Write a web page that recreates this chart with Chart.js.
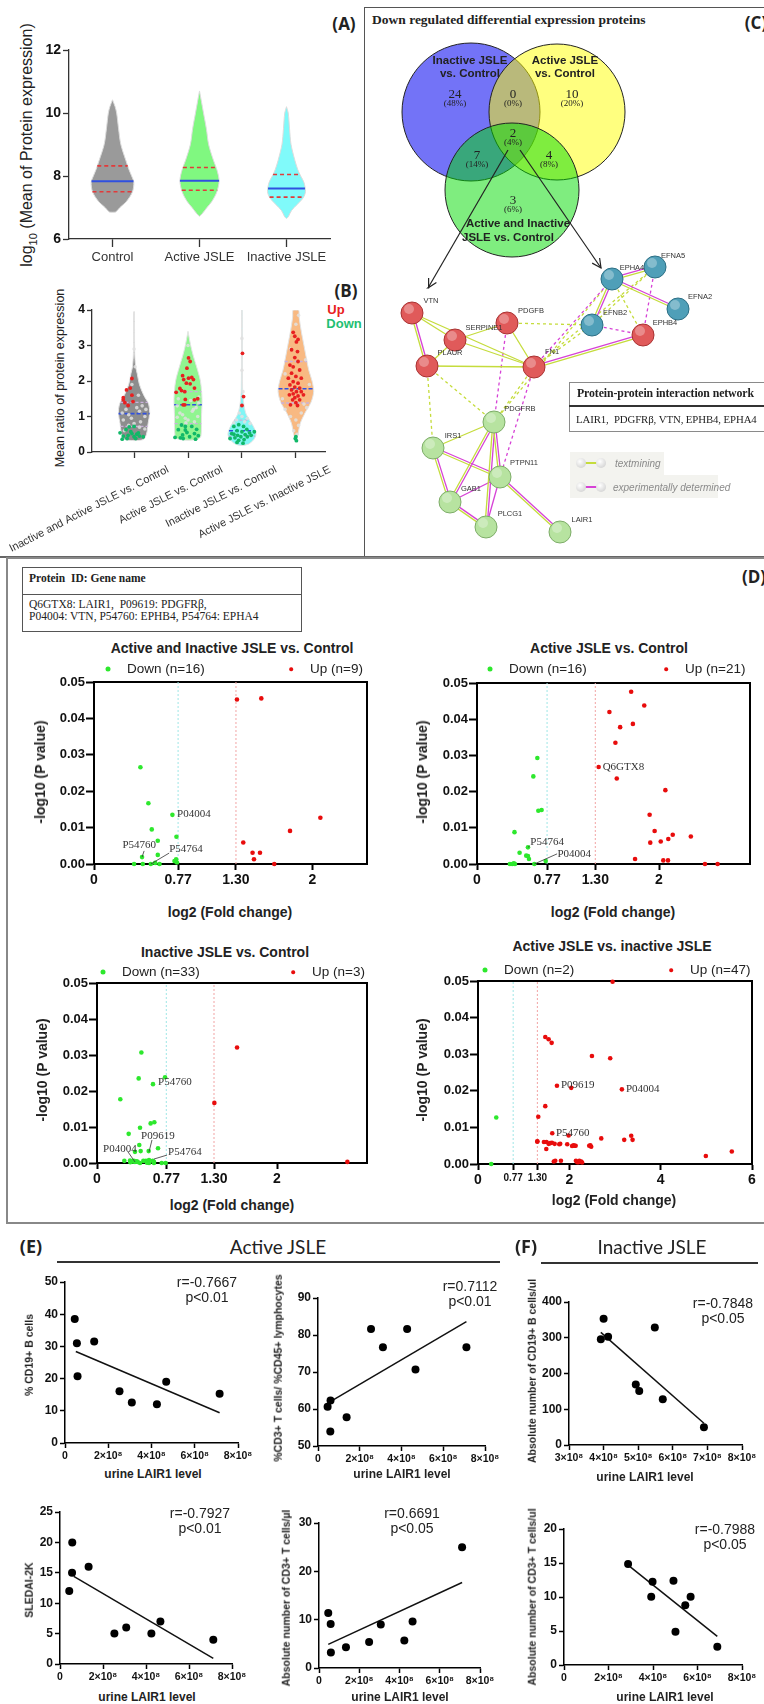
<!DOCTYPE html>
<html>
<head>
<meta charset="utf-8">
<title>Urine proteomics in JSLE</title>
<script src="https://cdn.jsdelivr.net/npm/chart.js@4.4.1/dist/chart.umd.min.js"></script>
<style>
  body { margin: 0; width: 764px; height: 1704px; position: relative; overflow: hidden; background: #fff;
         font-family: "Liberation Sans", Arial, sans-serif; color: #222; }
  canvas { position: absolute; }
  .t { position: absolute; white-space: nowrap; line-height: 1; transform: translate(-50%, -50%); }
  .l { transform: translate(0, -50%); }
  .rot { transform: translate(-50%, -50%) rotate(-90deg); }
  .ln { position: absolute; box-sizing: border-box; }
  .dot { position: absolute; border-radius: 50%; transform: translate(-50%, -50%); }
</style>
</head>
<body>
<script>
// ---------- (A) violin: log10 mean protein expression ----------
const groupsA = ["Control", "Active JSLE", "Inactive JSLE"];
// [log10 level, half width in category units]
const profileControl = [[6.85, 0], [6.86, 0.038], [7.0, 0.086], [7.2, 0.163], [7.5, 0.23], [7.8, 0.245], [8.0, 0.22], [8.2, 0.19], [8.5, 0.153], [9.0, 0.096], [9.5, 0.07], [10.0, 0.048], [10.2, 0.03], [10.42, 0]];
const profileActive = [[6.72, 0], [6.8, 0.03], [7.0, 0.086], [7.2, 0.144], [7.5, 0.2], [7.85, 0.225], [8.2, 0.2], [8.5, 0.16], [9.0, 0.105], [9.5, 0.079], [10.0, 0.046], [10.4, 0.02], [10.7, 0]];
const profileInactive = [[6.65, 0], [6.7, 0.02], [6.9, 0.057], [7.1, 0.125], [7.3, 0.19], [7.5, 0.218], [7.8, 0.2], [8.0, 0.163], [8.2, 0.13], [8.5, 0.096], [9.0, 0.052], [9.5, 0.035], [10.0, 0.02], [10.2, 0]];
const mediansA = [7.83, 7.85, 7.6];
const quartilesA = [[7.5, 8.32], [7.55, 8.27], [7.33, 8.05]];
const yTicksA = [6, 8, 10, 12];

// ---------- (B) violin: mean ratio of protein expression ----------
const groupsB = ["Inactive and Active JSLE vs. Control", "Active JSLE vs. Control", "Inactive JSLE vs. Control", "Active JSLE vs. Inactive JSLE"];
const profileB1 = [[0.32, 0], [0.35, 0.17], [0.5, 0.23], [0.8, 0.26], [1.1, 0.29], [1.35, 0.27], [1.6, 0.18], [1.9, 0.1], [2.2, 0.06], [2.4, 0.03], [2.8, 0.012], [3.95, 0.006]];
const profileB2 = [[0.33, 0], [0.36, 0.18], [0.45, 0.24], [1.0, 0.25], [1.5, 0.26], [2.0, 0.23], [2.4, 0.16], [2.7, 0.1], [3.0, 0.05], [3.4, 0]];
const profileB3 = [[0.18, 0], [0.22, 0.12], [0.35, 0.22], [0.5, 0.26], [0.7, 0.22], [0.9, 0.14], [1.1, 0.07], [1.4, 0.03], [1.8, 0.012], [4.0, 0.006]];
const profileB4 = [[0.28, 0], [0.5, 0.04], [0.8, 0.08], [1.1, 0.17], [1.4, 0.28], [1.7, 0.33], [2.0, 0.3], [2.3, 0.24], [2.6, 0.2], [3.0, 0.15], [3.4, 0.1], [3.8, 0.06], [4.0, 0.05]];
const mediansB = [1.08, 1.33, 0.6, 1.78];
const quartilesB = [[0.72, 1.4], [0.8, 1.7], [0.45, 0.9], [1.38, 2.55]];
const yTicksB = [0, 1, 2, 3, 4];
// points: [offset from group centre, ratio]
const upB1 = [[-0.04, 2.07], [-0.07, 1.8], [-0.14, 1.75], [-0.04, 1.6], [-0.2, 1.53], [-0.02, 1.42], [-0.17, 1.39], [-0.11, 1.31], [-0.2, 1.47]];
const downB1 = [[0, 0.72], [-0.09, 0.71], [-0.15, 0.63], [-0.04, 0.52], [0.05, 0.5], [-0.11, 0.47], [-0.2, 0.45], [0, 0.43], [0.1, 0.45], [-0.13, 0.38], [-0.22, 0.36], [0.03, 0.38], [0.17, 0.43], [-0.06, 0.57], [0.08, 0.54], [-0.26, 0.54]];
const upB2 = [[0.01, 2.65], [0.04, 2.55], [-0.02, 2.36], [-0.1, 2.15], [0.01, 2.08], [0.07, 2.1], [-0.08, 2.04], [0.1, 2.04], [-0.03, 1.94], [0.04, 1.92], [-0.12, 1.73], [0.12, 1.8], [-0.06, 1.7], [-0.22, 1.68], [0.18, 1.5], [-0.05, 1.48], [-0.09, 1.33], [-0.06, 1.33], [0.12, 1.47], [-0.15, 1.79]];
const downB2 = [[-0.12, 0.76], [-0.05, 0.72], [0.07, 0.72], [0.16, 0.64], [-0.18, 0.63], [-0.02, 0.55], [0.12, 0.52], [-0.1, 0.48], [0.19, 0.46], [-0.24, 0.41], [-0.14, 0.4], [-0.09, 0.38], [0.03, 0.43], [0.14, 0.36], [-0.05, 0.62]];
const upB3 = [[0.01, 2.78], [0.03, 1.56], [0, 1.31]];
const downB3 = [[-0.15, 0.72], [-0.06, 0.77], [0.03, 0.72], [0.09, 0.64], [-0.09, 0.6], [0, 0.57], [0.14, 0.54], [-0.19, 0.52], [-0.08, 0.47], [0.06, 0.49], [-0.13, 0.4], [-0.02, 0.43], [0.1, 0.43], [-0.22, 0.38], [-0.06, 0.33], [0.04, 0.35], [-0.09, 0.27], [0.02, 0.25], [0.17, 0.47], [-0.15, 0.5], [0.23, 0.57]];
const upB4 = [[-0.05, 3.37], [-0.02, 3.26], [0.04, 3.17], [0.01, 3.1], [-0.08, 2.88], [0.03, 2.83], [-0.02, 2.66], [0.04, 2.55], [-0.11, 2.45], [-0.05, 2.4], [0.07, 2.31], [-0.08, 2.22], [0, 2.13], [-0.14, 2.08], [0.1, 2.08], [-0.05, 1.98], [0.04, 1.94], [-0.11, 1.89], [-0.02, 1.83], [0.07, 1.8], [-0.08, 1.75], [0.01, 1.7], [0.1, 1.7], [-0.05, 1.64], [-0.12, 1.61], [0.04, 1.58], [0.14, 1.61], [-0.02, 1.53], [-0.06, 1.47], [0.07, 1.47], [0, 1.39], [-0.1, 1.33], [0.03, 1.31]];
const downB4 = [[0, 0.43], [-0.01, 0.38], [0.01, 0.32]];
const otherB1 = [[-0.15, 1.2], [0.1, 1.15], [0.2, 1.0], [-0.05, 0.95], [0.12, 0.85], [-0.2, 0.9], [0.05, 1.25], [0.15, 1.3], [-0.1, 1.05], [0, 0.8], [0.2, 0.65], [-0.18, 0.6], [0.08, 1.6], [-0.04, 1.9], [0.02, 2.4], [0, 2.9], [-0.22, 1.1], [0.22, 1.2], [0.1, 0.7], [-0.1, 0.75]];
const otherB2 = [[-0.15, 1.1], [0.1, 1.2], [0.18, 1.0], [-0.05, 0.95], [0.12, 0.85], [-0.2, 1.3], [0.05, 1.45], [0.15, 1.25], [-0.1, 1.05], [0, 0.9], [0.2, 1.55], [-0.18, 1.5], [0.08, 1.15], [-0.04, 0.82], [0, 3.0], [-0.2, 0.98], [0.2, 1.38]];
const otherB3 = [[-0.1, 0.9], [0.05, 0.85], [0, 1.0], [-0.05, 1.1], [0.02, 1.7], [0, 2.3], [0.15, 0.8], [-0.15, 0.82], [0.1, 0.95], [0, 3.2]];
const otherB4 = [[-0.2, 1.2], [0.2, 1.25], [0.1, 1.1], [-0.1, 1.0], [0, 0.9], [0.05, 0.75], [-0.04, 0.6], [0.02, 0.5], [0.15, 1.35], [-0.25, 1.5], [0.25, 1.9], [-0.2, 2.2], [0.18, 2.6], [-0.1, 2.9], [0, 3.6], [0.05, 3.85]];

// ---------- (C) Venn + STRING network (layout in page pixels) ----------
const vennCircles = [
  { x: 471, y: 112, r: 69, color: "rgba(0,0,240,0.55)" },
  { x: 557, y: 112, r: 68, color: "rgba(255,255,0,0.5)" },
  { x: 512, y: 190, r: 67, color: "rgba(0,220,0,0.5)" },
];
const vennArrows = [[508, 150, 428, 288], [520, 150, 601, 268]];
const netNodes = [
  ["VTN", 412, 313, "r"], ["SERPINE1", 455, 340, "r"], ["PLAUR", 427, 366, "r"], ["PDGFB", 507, 323, "r"], ["FN1", 534, 367, "r"],
  ["EFNB2", 592, 325, "b"], ["EPHB4", 643, 335, "r"], ["EFNA2", 678, 309, "b"], ["EPHA4", 612, 279, "b"], ["EFNA5", 655, 267, "b"],
  ["PDGFRB", 494, 422, "g"], ["IRS1", 433, 448, "g"], ["PTPN11", 500, 477, "g"], ["GAB1", 450, 502, "g"], ["PLCG1", 486, 527, "g"], ["LAIR1", 560, 532, "g"],
];
const netLabels = [["VTN", 431, 301], ["SERPINE1", 484, 328], ["PLAUR", 450, 353], ["PDGFB", 531, 311], ["FN1", 552, 352], ["EFNB2", 615, 313], ["EPHB4", 665, 323], ["EFNA2", 700, 297], ["EPHA4", 632, 268], ["EFNA5", 673, 256], ["PDGFRB", 520, 409], ["IRS1", 453, 436], ["PTPN11", 524, 463], ["GAB1", 471, 489], ["PLCG1", 510, 514], ["LAIR1", 582, 520]];
const netEdges = [
  ["VTN", "SERPINE1", "tm"], ["VTN", "FN1", "tm"], ["VTN", "PLAUR", "both"], ["SERPINE1", "PLAUR", "tm"], ["SERPINE1", "FN1", "tm"], ["SERPINE1", "PDGFB", "tm"], ["PLAUR", "FN1", "tm"], ["PDGFB", "FN1", "tm"], ["FN1", "EPHB4", "both"],
  ["EPHA4", "EFNB2", "both"], ["EPHA4", "EFNA5", "both"], ["EPHA4", "EFNA2", "both"], ["EPHB4", "EFNA5", "exd"], ["EFNB2", "EPHB4", "exd"], ["EPHA4", "EPHB4", "tmd"], ["EFNA5", "EFNB2", "tmd"],
  ["FN1", "EPHA4", "exd"], ["FN1", "EFNB2", "tmd"], ["PDGFB", "EFNB2", "tmd"], ["FN1", "EFNA5", "tmd"],
  ["PDGFB", "PDGFRB", "exd"], ["PLAUR", "IRS1", "tmd"], ["PLAUR", "PDGFRB", "tmd"], ["FN1", "PDGFRB", "tmd"], ["FN1", "PTPN11", "exd"], ["PDGFRB", "EPHA4", "tmd"],
  ["PDGFRB", "IRS1", "tm"], ["PDGFRB", "PTPN11", "both"], ["PDGFRB", "GAB1", "both"], ["PDGFRB", "PLCG1", "both"], ["IRS1", "PTPN11", "both"], ["IRS1", "GAB1", "both"], ["GAB1", "PTPN11", "ex"], ["GAB1", "PLCG1", "both"], ["PTPN11", "PLCG1", "ex"], ["PTPN11", "LAIR1", "both"],
];

// ---------- (D) volcano plots: [log2 fold change, -log10 p] ----------
const cutDown = 0.77, cutUp = 1.30;
const yTicksVolcano = [0, 0.01, 0.02, 0.03, 0.04, 0.05];
const xTicksVolcano = [0, 0.77, 1.30, 2];
const xTicksVolcano4 = [0, 0.77, 1.30, 2, 4, 6];
const down1 = [[0.425, 0.0266], [0.498, 0.0167], [0.718, 0.0135], [0.529, 0.0095], [0.755, 0.0075], [0.584, 0.0064], [0.584, 0.0025], [0.44, 0.0019], [0.367, 0], [0.447, 0], [0.52, 0], [0.56, 0.0003], [0.6, 0], [0.737, 0.0008], [0.752, 0.0013], [0.76, 0.0004]];
const up1 = [[1.309, 0.0452], [1.532, 0.0455], [2.073, 0.0127], [1.795, 0.0091], [1.367, 0.0059], [1.452, 0.0031], [1.52, 0.0031], [1.465, 0.0013], [1.651, 0]];
const down2 = [[0.663, 0.0293], [0.619, 0.0242], [0.674, 0.0147], [0.71, 0.0149], [0.412, 0.0088], [0.56, 0.0046], [0.541, 0.0023], [0.56, 0.0022], [0.571, 0.0014], [0.468, 0.0031], [0.755, 0.0008], [0.63, 0], [0.361, 0], [0.387, 0], [0.417, 0], [0.405, 0.0002]];
const up2 = [[1.694, 0.0476], [1.838, 0.0438], [1.455, 0.042], [1.713, 0.0387], [1.573, 0.0378], [1.521, 0.0335], [1.337, 0.0268], [1.536, 0.0236], [2.07, 0.0204], [1.897, 0.0136], [1.952, 0.0091], [2.151, 0.0081], [2.35, 0.0076], [2.102, 0.0069], [1.904, 0.0059], [2.019, 0.0062], [1.737, 0.0014], [2.047, 0.001], [2.099, 0.001], [2.505, 0], [2.644, 0]];
const down3 = [[0.493, 0.0307], [0.463, 0.0235], [0.756, 0.0238], [0.622, 0.0219], [0.259, 0.0177], [0.596, 0.011], [0.637, 0.0113], [0.478, 0.0098], [0.352, 0.0081], [0.47, 0.005], [0.678, 0.0041], [0.422, 0.0031], [0.485, 0.0033], [0.574, 0.0033], [0.304, 0.0006], [0.367, 0.0007], [0.396, 0.0004], [0.422, 0.0003], [0.452, 0.0003], [0.515, 0.0006], [0.544, 0.0006], [0.578, 0.0008], [0.619, 0.0006], [0.633, 0.0003], [0.719, 0], [0.763, 0], [0.633, 0], [0.44, 0.0005], [0.37, 0.0002], [0.578, 0], [0.478, 0], [0.41, 0.0006], [0.555, 0.0001]];
const up3 = [[1.556, 0.0321], [1.304, 0.0167], [2.782, 0.0003]];
const down4 = [[0.4, 0.0127], [0.29, 0]];
const up4 = [[2.947, 0.0498], [1.473, 0.0347], [1.547, 0.0341], [1.613, 0.0331], [2.495, 0.0295], [2.895, 0.0289], [1.729, 0.0214], [2.042, 0.0208], [3.151, 0.0204], [1.473, 0.0158], [1.32, 0.0129], [1.626, 0.0084], [1.984, 0.0078], [2.699, 0.007], [3.355, 0.0077], [3.385, 0.0066], [3.202, 0.0066], [1.298, 0.0061], [1.444, 0.006], [1.547, 0.0055], [1.619, 0.0058], [1.678, 0.0055], [1.779, 0.0054], [1.954, 0.0054], [2.116, 0.005], [2.138, 0.005], [2.435, 0.005], [2.479, 0.0047], [1.495, 0.0041], [4.989, 0.0022], [5.558, 0.0034], [1.692, 0.0009], [1.816, 0.0009], [2.144, 0.0009], [2.203, 0.0005], [2.26, 0.0007], [2.173, 0.0005], [1.58, 0.0057], [1.8, 0.0055], [2.09, 0.0051], [2.22, 0.0009], [2.28, 0.0004], [2.46, 0.0051], [1.3, 0.0062], [1.5, 0.006], [2.06, 0.0049], [1.66, 0.0007]];
// protein id tags: text anchor [x, y], optional leader [x1, y1, x2, y2]
const tags1 = [{ t: "P04004", x: 0.761, y: 0.0137 }, { t: "P54760", x: 0.26, y: 0.0052, lead: [0.459, 0.0036, 0.44, 0.0019] }, { t: "P54764", x: 0.688, y: 0.0041, lead: [0.688, 0.003, 0.52, 0] }];
const tags2 = [{ t: "Q6GTX8", x: 1.381, y: 0.0268 }, { t: "P54764", x: 0.586, y: 0.0061, lead: [0.58, 0.005, 0.56, 0.0046] }, { t: "P04004", x: 0.884, y: 0.0028, lead: [0.88, 0.0028, 0.63, 0] }];
const tags3 = [{ t: "P54760", x: 0.678, y: 0.0225 }, { t: "P09619", x: 0.489, y: 0.0075, lead: [0.611, 0.0064, 0.578, 0.0031] }, { t: "P04004", x: 0.067, y: 0.0039, lead: [0.344, 0.0031, 0.422, 0.0003] }, { t: "P54764", x: 0.789, y: 0.0031, lead: [0.778, 0.0022, 0.633, 0.0011] }];
const tags4 = [{ t: "P09619", x: 1.816, y: 0.0216 }, { t: "P04004", x: 3.239, y: 0.0205 }, { t: "P54760", x: 1.707, y: 0.0085 }];

// ---------- (E)/(F) correlations: [urine LAIR1 (×10⁸), value] ----------
const xTicksE = [0, 2, 4, 6, 8];
const xTicksF1 = [3, 4, 5, 6, 7, 8];
const cd19Pct = [[0.45, 38.5], [0.55, 31.0], [0.58, 20.7], [1.35, 31.5], [2.52, 16.1], [3.09, 12.6], [4.25, 12.0], [4.68, 19.0], [7.15, 15.3]];
const cd19PctFit = [[0.5, 28.4], [7.15, 9.4]];
const cd3Pct = [[0.46, 60.6], [0.6, 62.3], [0.59, 53.9], [1.37, 57.8], [2.54, 81.6], [3.11, 76.7], [4.27, 81.6], [4.67, 70.7], [7.11, 76.7]];
const cd3PctFit = [[0.65, 62.2], [7.11, 83.6]];
const cd19Abs = [[4.0, 353], [3.92, 296], [4.13, 303], [5.48, 329], [4.93, 169], [5.03, 151], [5.71, 128], [6.9, 49.5]];
const cd19AbsFit = [[3.92, 315], [6.9, 61]];
const sledai = [[0.43, 12], [0.56, 15], [0.57, 20], [1.33, 16], [2.53, 5], [3.08, 6], [4.25, 5], [4.67, 7], [7.13, 4]];
const sledaiFit = [[0.64, 14.4], [7.13, 0.93]];
const cd3AbsActive = [[0.46, 11.4], [0.58, 9.1], [0.59, 3.2], [1.34, 4.3], [2.49, 5.4], [3.07, 9.0], [4.24, 5.7], [4.65, 9.6], [7.11, 25.0]];
const cd3AbsActiveFit = [[0.46, 4.9], [7.11, 17.7]];
const cd3AbsInactive = [[2.88, 14.85], [3.98, 12.25], [3.92, 10.05], [4.92, 12.4], [5.01, 4.9], [5.45, 8.8], [5.69, 10.05], [6.89, 2.7]];
const cd3AbsInactiveFit = [[2.88, 14.7], [6.89, 4.2]];

// ================= helpers =================
Chart.defaults.font.family = "'Liberation Sans', Arial, sans-serif";
Chart.defaults.color = "#222";

function txt(html, x, y, css, cls) {
  const d = document.createElement("div");
  d.className = "t" + (cls ? " " + cls : "");
  d.innerHTML = html;
  d.style.cssText = "left:" + x + "px;top:" + y + "px;" + (css || "");
  document.body.appendChild(d);
  return d;
}
function rect(l, t, r, b, css) {
  const d = document.createElement("div");
  d.className = "ln";
  d.style.cssText = "left:" + l + "px;top:" + t + "px;width:" + (r - l) + "px;height:" + (b - t) + "px;" + css;
  document.body.appendChild(d);
}
function dot(x, y, r, color) {
  const d = document.createElement("div");
  d.className = "dot";
  d.style.cssText = "left:" + x + "px;top:" + y + "px;width:" + 2 * r + "px;height:" + 2 * r + "px;background:" + color;
  document.body.appendChild(d);
}
const xy = (arr) => arr.map(([x, y]) => ({ x, y }));

const framePlugin = {
  id: "frame",
  beforeDatasetsDraw(chart) {
    const a = chart.chartArea, c = chart.ctx;
    c.save();
    c.strokeStyle = "#000";
    c.lineWidth = 2;
    c.strokeRect(a.left, a.top, a.right - a.left, a.bottom - a.top);
    c.restore();
  },
};
function tagPlugin(items, font) {
  return {
    id: "tags",
    afterDatasetsDraw(chart) {
      const c = chart.ctx, xs = chart.scales.x, ys = chart.scales.y;
      c.save();
      items.forEach((it) => {
        if (it.lead) {
          c.beginPath();
          c.strokeStyle = "#333";
          c.lineWidth = 0.8;
          c.moveTo(xs.getPixelForValue(it.lead[0]), ys.getPixelForValue(it.lead[1]));
          c.lineTo(xs.getPixelForValue(it.lead[2]), ys.getPixelForValue(it.lead[3]));
          c.stroke();
        }
        c.font = font;
        c.fillStyle = "#333";
        c.textAlign = "left";
        c.textBaseline = "middle";
        c.fillText(it.t, xs.getPixelForValue(it.x), ys.getPixelForValue(it.y));
      });
      c.restore();
    },
  };
}

// plot = chart area in page pixels, m = room around it for ticks
function plotChart(plot, m, datasets, scales, plugins) {
  const cv = document.createElement("canvas");
  cv.width = plot.r - plot.l + m.l + m.r;
  cv.height = plot.b - plot.t + m.t + m.b;
  cv.style.left = plot.l - m.l + "px";
  cv.style.top = plot.t - m.t + "px";
  document.body.appendChild(cv);
  scales.x.afterFit = (s) => { s.height = m.b; s.paddingLeft = 0; s.paddingRight = 0; };
  scales.y.afterFit = (s) => { s.width = m.l; s.paddingTop = 0; s.paddingBottom = 0; };
  return new Chart(cv, {
    type: "scatter",
    data: { datasets },
    options: {
      responsive: false,
      animation: false,
      events: [],
      layout: { padding: { top: m.t, right: m.r, left: 0, bottom: 0 }, autoPadding: false },
      scales,
      plugins: { legend: { display: false }, tooltip: { enabled: false } },
    },
    plugins: plugins || [],
  });
}
function axis(min, max, values, labelFn, font, o) {
  o = o || {};
  return {
    type: "linear", min, max, reverse: !!o.reverse,
    afterBuildTicks: (s) => { s.ticks = values.map((v) => ({ value: v })); },
    ticks: { autoSkip: false, maxRotation: o.rot || 0, minRotation: o.rot || 0, labelOffset: o.off || 0,
             padding: o.pad === undefined ? 2 : o.pad, font, color: o.color || "#111",
             callback: (v, i) => labelFn(values[i], i) },
    grid: { drawOnChartArea: false, drawTicks: true, tickLength: o.tl || 6, tickColor: o.lc || "#000", tickWidth: o.lw || 1.5 },
    border: { display: true, color: o.lc || "#000", width: o.lw || 1.5 },
  };
}
function segment(p, q, color, width, dash, order) {
  return { data: [p, q], showLine: true, borderColor: color, borderWidth: width, borderDash: dash || [], pointRadius: 0, order: order || 5, clip: false };
}
function halfAt(profile, y) {
  for (let i = 1; i < profile.length; i++) {
    const [y0, w0] = profile[i - 1], [y1, w1] = profile[i];
    if (y >= y0 && y <= y1) return w0 + ((w1 - w0) * (y - y0)) / (y1 - y0);
  }
  return 0;
}
function violin(profile, c, fill, edge) {
  const right = profile.map(([y, w]) => ({ x: c + w, y }));
  const left = profile.slice().reverse().map(([y, w]) => ({ x: c - w, y }));
  return { data: right.concat(left), showLine: true, fill: "shape", backgroundColor: fill, borderColor: edge, borderWidth: 1, pointRadius: 0, tension: 0.3, order: 20 };
}
function level(profile, c, y, color, width, dash) {
  const w = halfAt(profile, y);
  return segment({ x: c - w, y }, { x: c + w, y }, color, width, dash, 10);
}
function pts(arr, c, color, r, order) {
  return { data: arr.map(([dx, y]) => ({ x: c + dx, y })), backgroundColor: color, borderWidth: 0, pointRadius: r, order: order || 1 };
}

// ================= layout: frames and headings =================
rect(364, 7, 764, 558, "border-left:1.5px solid #555;border-top:1.5px solid #555;");
rect(0, 556, 764, 558, "background:#666;");
rect(6, 557, 770, 1224, "border:2px solid #888;");

// ================= (A) =================
txt("(A)", 344, 23, "font:bold 17px 'Open Sans',sans-serif;");
txt("log<sub style='font-size:11px'>10</sub> (Mean of Protein expression)", 29, 145, "font-size:16px;", "rot");
{
  const profiles = [profileControl, profileActive, profileInactive];
  const fills = ["#9a9a9a", "#80f880", "#80fafa"];
  const sets = [];
  profiles.forEach((p, i) => {
    sets.push(violin(p, i, fills[i], "#dcdcdc"));
    sets.push(level(p, i, mediansA[i], "#3050e0", 2));
    sets.push(level(p, i, quartilesA[i][0], "#e23a3a", 1.6, [4, 3]));
    sets.push(level(p, i, quartilesA[i][1], "#e23a3a", 1.6, [4, 3]));
  });
  plotChart({ l: 69, t: 50, r: 330, b: 239 }, { l: 40, t: 10, r: 10, b: 30 }, sets, {
    x: axis(-0.5, 2.5, [0, 1, 2], (v, i) => groupsA[i], { size: 13 }, { tl: 8, lc: "#333", lw: 1.3, pad: 3, color: "#333" }),
    y: axis(6, 12, yTicksA, (v) => String(v), { size: 14, weight: "bold" }, { tl: 6, lc: "#333", lw: 1.3, pad: 2 }),
  });
}

// ================= (B) =================
txt("(B)", 346, 290, "font:bold 17px 'Open Sans',sans-serif;");
txt("Up", 336, 309, "font-weight:bold;font-size:13px;color:#e82020;");
txt("Down", 344, 323, "font-weight:bold;font-size:13px;color:#1fbf73;");
txt("Mean ratio of protein expression", 60, 378, "font-size:12.5px;", "rot");
{
  const profiles = [profileB1, profileB2, profileB3, profileB4];
  const fills = ["#8d8d8d", "#90f590", "#80f5f5", "#f8b982"];
  const ups = [upB1, upB2, upB3, upB4], downs = [downB1, downB2, downB3, downB4], others = [otherB1, otherB2, otherB3, otherB4];
  const sets = [];
  profiles.forEach((p, i) => {
    sets.push(violin(p, i, fills[i], "#e4e4e4"));
    sets.push(level(p, i, quartilesB[i][0], "#c9b0dc", 1.3, [3, 2]));
    sets.push(level(p, i, quartilesB[i][1], "#c9b0dc", 1.3, [3, 2]));
    sets.push(level(p, i, mediansB[i], "#3050e0", 1.6, [4, 2]));
    sets.push(pts(others[i], i, "rgba(225,225,225,0.85)", 1.8, 3));
    sets.push(pts(ups[i], i, "#e82020", 1.9, 1));
    sets.push(pts(downs[i], i, "#10b868", 1.9, 1));
  });
  plotChart({ l: 92, t: 310, r: 325, b: 452 }, { l: 92, t: 10, r: 14, b: 100 }, sets, {
    x: axis(-0.78, 3.54, [0, 1, 2, 3], (v, i) => groupsB[i], { size: 11 }, { tl: 6, lc: "#333", lw: 1.3, rot: 27, off: 34, pad: 5, color: "#333" }),
    y: axis(0, 4, yTicksB, (v) => String(v), { size: 12, weight: "bold" }, { tl: 5, lc: "#333", lw: 1.3, pad: 2 }),
  });
}

// ================= (C) =================
txt("Down regulated differential expression proteins", 372, 20, "font:bold 13.5px 'Liberation Serif',serif;", "l");
txt("(C)", 756, 22, "font:bold 17px 'Open Sans',sans-serif;");
{
  const cv = document.createElement("canvas");
  cv.width = 398; cv.height = 549;
  cv.style.left = "364px"; cv.style.top = "7px";
  document.body.appendChild(cv);
  const sets = [];
  vennCircles.forEach((c, i) => {
    sets.push({ type: "bubble", data: [{ x: c.x, y: c.y, r: c.r }], backgroundColor: c.color, borderColor: "#222", borderWidth: 1, order: 100 - i });
  });
  vennArrows.forEach(([x1, y1, x2, y2]) => {
    const len = Math.hypot(x2 - x1, y2 - y1), ux = (x2 - x1) / len, uy = (y2 - y1) / len;
    sets.push(segment({ x: x1, y: y1 }, { x: x2, y: y2 }, "#222", 1.2, [], 90));
    sets.push({ data: [{ x: x2 - 9 * ux + 4.5 * uy, y: y2 - 9 * uy - 4.5 * ux }, { x: x2, y: y2 }, { x: x2 - 9 * ux - 4.5 * uy, y: y2 - 9 * uy + 4.5 * ux }],
      showLine: true, borderColor: "#222", borderWidth: 1.2, pointRadius: 0, order: 90 });
  });
  const at = {};
  netNodes.forEach(([id, x, y]) => { at[id] = { x, y }; });
  const edgeColors = { tm: ["#c5dc3c"], ex: ["#d642d6"], both: ["#c5dc3c", "#d642d6"], tmd: ["#c5dc3c"], exd: ["#d642d6"] };
  netEdges.forEach(([a, b, k]) => {
    const p = at[a], q = at[b], len = Math.hypot(q.x - p.x, q.y - p.y);
    const nx = -(q.y - p.y) / len, ny = (q.x - p.x) / len;
    const cols = edgeColors[k];
    cols.forEach((col, j) => {
      const off = cols.length > 1 ? (j ? -1.1 : 1.1) : 0;
      sets.push(segment({ x: p.x + nx * off, y: p.y + ny * off }, { x: q.x + nx * off, y: q.y + ny * off }, col, 1.3, k.endsWith("d") ? [3, 3] : [], 50));
    });
  });
  const fillOf = { r: "#e05a5a", b: "#4f9fb8", g: "#b7e3a0" }, edgeOf = { r: "#a83232", b: "#2c6e84", g: "#7dac68" };
  sets.push({ data: netNodes.map(([, x, y]) => ({ x, y })), backgroundColor: netNodes.map((n) => fillOf[n[3]]), borderColor: netNodes.map((n) => edgeOf[n[3]]), borderWidth: 1, pointRadius: 11, order: 10 });
  sets.push({ data: netNodes.map(([, x, y]) => ({ x: x - 3, y: y - 4 })), backgroundColor: "rgba(255,255,255,0.3)", borderWidth: 0, pointRadius: 5, order: 9 });
  new Chart(cv, {
    type: "scatter",
    data: { datasets: sets },
    options: {
      responsive: false, animation: false, events: [],
      layout: { padding: 0, autoPadding: false },
      scales: { x: { type: "linear", min: 364, max: 762, display: false }, y: { type: "linear", min: 7, max: 556, reverse: true, display: false } },
      plugins: { legend: { display: false }, tooltip: { enabled: false } },
    },
  });
}
{
  const lab = "font:bold 11.5px 'Liberation Sans',sans-serif;";
  txt("Inactive JSLE", 470, 60, lab); txt("vs. Control", 470, 73, lab);
  txt("Active JSLE", 565, 60, lab); txt("vs. Control", 565, 73, lab);
  txt("Active and Inactive", 518, 223, lab); txt("JSLE vs. Control", 508, 237, lab);
  const num = "font:13px 'Liberation Serif',serif;", pct = "font:9px 'Liberation Serif',serif;";
  [["24", "(48%)", 455, 94], ["0", "(0%)", 513, 94], ["10", "(20%)", 572, 94], ["2", "(4%)", 513, 133], ["7", "(14%)", 477, 155], ["4", "(8%)", 549, 155], ["3", "(6%)", 513, 200]].forEach(([n, p, x, y]) => {
    txt(n, x, y, num); txt(p, x, y + 9, pct);
  });
  netLabels.forEach(([s, x, y]) => txt(s, x, y, "font-size:7.5px;color:#333;"));
  rect(569, 382, 780, 432, "border:1px solid #8a8a8a;");
  rect(569, 405, 780, 407, "background:#333;");
  txt("Protein-protein interaction network", 577, 393, "font:bold 11.8px 'Liberation Serif',serif;letter-spacing:-0.1px;", "l");
  txt("LAIR1,&nbsp; PDGFRβ, VTN, EPHB4, EPHA4", 576, 419, "font:10.8px 'Liberation Serif',serif;letter-spacing:-0.1px;", "l");
  rect(570, 452, 664, 475, "background:#f3f3ef;");
  rect(570, 475, 718, 498, "background:#f3f3ef;");
  rect(581, 462, 601, 464, "background:#c5dc3c;");
  rect(581, 486, 601, 488, "background:#d642d6;");
  [[581, 463], [601, 463], [581, 487], [601, 487]].forEach(([x, y]) => dot(x, y, 5, "radial-gradient(circle at 40% 35%, #fff, #c8c8c8)"));
  txt("textmining", 615, 463, "font:italic 10px 'Liberation Sans',sans-serif;color:#8a8a8a;", "l");
  txt("experimentally determined", 613, 487, "font:italic 10px 'Liberation Sans',sans-serif;color:#8a8a8a;", "l");
}

// ================= (D) =================
txt("(D)", 754, 576, "font:bold 17px 'Open Sans',sans-serif;");
rect(22, 567, 302, 632, "border:1px solid #555;");
rect(22, 594, 302, 595, "background:#555;");
txt("Protein&nbsp; ID: Gene name", 29, 578, "font:bold 11.5px 'Liberation Serif',serif;", "l");
txt("Q6GTX8: LAIR1,&nbsp; P09619: PDGFRβ,", 29, 604, "font:11.5px 'Liberation Serif',serif;", "l");
txt("P04004: VTN, P54760: EPHB4, P54764: EPHA4", 29, 616, "font:11.5px 'Liberation Serif',serif;", "l");

function volcano(plot, down, up, xmax, xTicks, tags, head, legend) {
  const small = (v) => (xmax > 3 && (v === cutDown || v === cutUp));
  plotChart(plot, { l: 52, t: 8, r: 14, b: 30 }, [
    { data: xy(down), backgroundColor: "#2de82d", borderWidth: 0, pointRadius: 2.3, order: 1, clip: false },
    { data: xy(up), backgroundColor: "#e80c0c", borderWidth: 0, pointRadius: 2.3, order: 1, clip: false },
    segment({ x: cutDown, y: 0 }, { x: cutDown, y: 0.05 }, "#9fe6e6", 1, [2, 2], 10),
    segment({ x: cutUp, y: 0 }, { x: cutUp, y: 0.05 }, "#f2a4a4", 1, [2, 2], 10),
  ], {
    x: axis(0, xmax, xTicks, (v) => (v === cutUp ? "1.30" : String(v)), (ctx) => ({ size: small(ctx.tick && ctx.tick.value) ? 10 : 14, weight: "bold" }), { tl: 6, lw: 2, pad: 2 }),
    y: axis(0, 0.05, yTicksVolcano, (v) => v.toFixed(2), { size: 13, weight: "bold" }, { tl: 8, lw: 2, pad: 1 }),
  }, [framePlugin, tagPlugin(tags, "11px 'Liberation Serif'")]);
  txt(head.title, head.tx, head.ty, "font-weight:bold;font-size:14px;");
  txt("log2 (Fold change)", head.xx, head.xy, "font-weight:bold;font-size:14px;");
  txt("-log10 (P value)", head.yx, head.yy, "font-weight:bold;font-size:14px;", "rot");
  dot(legend.gx, legend.y, 2.5, "#2de82d");
  txt(legend.down, legend.gx + 19, legend.y, "font-size:13.5px;", "l");
  dot(legend.rx, legend.y, 1.8, "#e80c0c");
  txt(legend.up, legend.rx + 19, legend.y, "font-size:13.5px;", "l");
}
volcano({ l: 94, t: 682, r: 367, b: 864 }, down1, up1, 2.5, xTicksVolcano, tags1,
  { title: "Active and Inactive JSLE vs. Control", tx: 232, ty: 648, xx: 230, xy: 912, yx: 40, yy: 772 },
  { gx: 108, rx: 291, y: 669, down: "Down (n=16)", up: "Up (n=9)" });
volcano({ l: 477, t: 683, r: 750, b: 864 }, down2, up2, 3, xTicksVolcano, tags2,
  { title: "Active JSLE vs. Control", tx: 609, ty: 648, xx: 613, xy: 912, yx: 422, yy: 772 },
  { gx: 490, rx: 666, y: 669, down: "Down (n=16)", up: "Up (n=21)" });
volcano({ l: 97, t: 983, r: 367, b: 1163 }, down3, up3, 3, xTicksVolcano, tags3,
  { title: "Inactive JSLE vs. Control", tx: 225, ty: 952, xx: 232, xy: 1205, yx: 42, yy: 1070 },
  { gx: 103, rx: 293, y: 972, down: "Down (n=33)", up: "Up (n=3)" });
volcano({ l: 478, t: 981, r: 752, b: 1164 }, down4, up4, 6, xTicksVolcano4, tags4,
  { title: "Active JSLE vs. inactive JSLE", tx: 612, ty: 946, xx: 614, xy: 1200, yx: 422, yy: 1070 },
  { gx: 485, rx: 671, y: 970, down: "Down (n=2)", up: "Up (n=47)" });

// ================= (E) / (F) =================
txt("(E)", 31, 1246, "font:bold 18px 'Open Sans',sans-serif;");
txt("Active JSLE", 278, 1246, "font:19px Lato,sans-serif;");
rect(57, 1261, 500, 1263, "background:#333;");
txt("(F)", 526, 1246, "font:bold 18px 'Open Sans',sans-serif;");
txt("Inactive JSLE", 652, 1246, "font:19px Lato,sans-serif;");
rect(541, 1262, 758, 1264, "background:#333;");

function corr(plot, points, fit, xr, xTicks, yr, yTicks, labels) {
  plotChart(plot, { l: 42, t: 8, r: 22, b: 24 }, [
    { data: xy(points), backgroundColor: "#000", borderWidth: 0, pointRadius: 4, order: 1, clip: false },
    segment({ x: fit[0][0], y: fit[0][1] }, { x: fit[1][0], y: fit[1][1] }, "#111", 1.5, [], 5),
  ], {
    x: axis(xr[0], xr[1], xTicks, (v) => (v === 0 ? "0" : v + "×10⁸"), { size: 10.5, weight: "bold" }, { tl: 5, lw: 1.5, pad: 2 }),
    y: axis(yr[0], yr[1], yTicks, (v) => String(v), { size: 12, weight: "bold" }, { tl: 5, lw: 1.5, pad: 2 }),
  });
  txt(labels.r, labels.rx, labels.ry, "font-size:14px;");
  txt(labels.p, labels.rx, labels.ry + 15, "font-size:14px;");
  txt("urine LAIR1 level", labels.xx, labels.xy, "font-weight:bold;font-size:12px;");
  txt(labels.y, labels.yx, labels.yy, "font-weight:bold;font-size:10.5px;", "rot");
}
corr({ l: 65, t: 1282, r: 238, b: 1443 }, cd19Pct, cd19PctFit, [0, 8], xTicksE, [0, 50], [0, 10, 20, 30, 40, 50],
  { r: "r=-0.7667", p: "p&lt;0.01", rx: 207, ry: 1282, xx: 153, xy: 1474, y: "% CD19+ B cells", yx: 29, yy: 1355 });
corr({ l: 318, t: 1298, r: 485, b: 1446 }, cd3Pct, cd3PctFit, [0, 8], xTicksE, [50, 90], [50, 60, 70, 80, 90],
  { r: "r=0.7112", p: "p&lt;0.01", rx: 470, ry: 1286, xx: 402, xy: 1474, y: "%CD3+ T cells/ %CD45+ lymphocytes", yx: 278, yy: 1368 });
corr({ l: 569, t: 1302, r: 742, b: 1445 }, cd19Abs, cd19AbsFit, [3, 8], xTicksF1, [0, 400], [0, 100, 200, 300, 400],
  { r: "r=-0.7848", p: "p&lt;0.05", rx: 723, ry: 1303, xx: 645, xy: 1477, y: "Absolute number of CD19+ B cells/ul", yx: 532, yy: 1371 });
corr({ l: 60, t: 1512, r: 232, b: 1664 }, sledai, sledaiFit, [0, 8], xTicksE, [0, 25], [0, 5, 10, 15, 20, 25],
  { r: "r=-0.7927", p: "p&lt;0.01", rx: 200, ry: 1513, xx: 147, xy: 1697, y: "SLEDAI-2K", yx: 29, yy: 1590 });
corr({ l: 319, t: 1523, r: 480, b: 1668 }, cd3AbsActive, cd3AbsActiveFit, [0, 8], xTicksE, [0, 30], [0, 10, 20, 30],
  { r: "r=0.6691", p: "p&lt;0.05", rx: 412, ry: 1513, xx: 400, xy: 1697, y: "Absolute number of CD3+ T cells/µl", yx: 286, yy: 1598 });
corr({ l: 564, t: 1529, r: 742, b: 1665 }, cd3AbsInactive, cd3AbsInactiveFit, [0, 8], xTicksE, [0, 20], [0, 5, 10, 15, 20],
  { r: "r=-0.7988", p: "p&lt;0.05", rx: 725, ry: 1529, xx: 665, xy: 1697, y: "Absolute number of CD3+ T cells/ul", yx: 532, yy: 1597 });
</script>
</body>
</html>
